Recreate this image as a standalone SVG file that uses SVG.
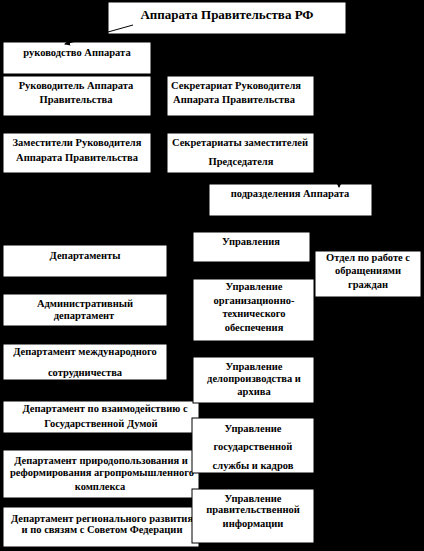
<svg xmlns="http://www.w3.org/2000/svg" width="424" height="551" viewBox="0 0 424 551">
<style>
.box{fill:#fff;stroke:#000;stroke-width:1}
.t{font-family:"Liberation Serif","Times New Roman",serif;font-weight:bold;font-size:10.5px;fill:#000;text-anchor:middle}
.title{font-size:13px}
.conn{stroke:#000;stroke-width:1;fill:none}
</style>
<defs>
<marker id="ah" markerWidth="6" markerHeight="6" refX="5" refY="3" orient="auto" markerUnits="userSpaceOnUse">
<path d="M0,0 L6,3 L0,6 Z" fill="#000"/>
</marker>
</defs>
<rect x="0" y="0" width="424" height="551" fill="#000"/>

<g id="n-title"><rect class="box" x="108" y="2" width="238" height="32"/><text class="t title" x="227" y="19">Аппарата Правительства РФ</text></g>
<g id="n-rukovodstvo"><rect class="box" x="3" y="42" width="148" height="32"/><text class="t" x="77" y="56">руководство Аппарата</text></g>
<g id="n-rukovoditel"><rect class="box" x="3" y="76" width="148" height="40"/><text class="t" x="76" y="89">Руководитель Аппарата</text><text class="t" x="76" y="103">Правительства</text></g>
<g id="n-sekretariat"><rect class="box" x="167" y="76" width="147" height="40"/><text class="t" x="236" y="89">Секретариат Руководителя</text><text class="t" x="234" y="103">Аппарата Правительства</text></g>
<g id="n-zamestiteli"><rect class="box" x="3" y="133" width="148" height="40"/><text class="t" x="77" y="146">Заместители Руководителя</text><text class="t" x="77" y="161">Аппарата Правительства</text></g>
<g id="n-sekretariaty"><rect class="box" x="167" y="133" width="147" height="40"/><text class="t" x="240" y="146">Секретариаты заместителей</text><text class="t" x="241" y="165">Председателя</text></g>
<g id="n-podrazdeleniya"><rect class="box" x="209" y="184" width="163" height="32"/><text class="t" x="290" y="197">подразделения Аппарата</text></g>

<g id="n-departamenty"><rect class="box" x="3" y="245" width="164" height="32"/><text class="t" x="85" y="259">Департаменты</text></g>
<g id="n-admin"><rect class="box" x="3" y="294" width="164" height="32"/><text class="t" x="85" y="307">Административный</text><text class="t" x="84" y="319">департамент</text></g>
<g id="n-mezhd"><rect class="box" x="3" y="344" width="164" height="36"/><text class="t" x="85" y="355">Департамент международного</text><text class="t" x="85" y="376">сотрудничества</text></g>
<g id="n-duma"><rect class="box" x="3" y="401" width="196" height="32"/><text class="t" x="105" y="412">Департамент по взаимодействию с</text><text class="t" x="101" y="427">Государственной Думой</text></g>
<g id="n-priroda"><rect class="box" x="3" y="450" width="196" height="48"/><text class="t" x="101" y="464">Департамент природопользования и</text><text class="t" x="102" y="476">реформирования агропромышленного</text><text class="t" x="100" y="490">комплекса</text></g>
<g id="n-region"><rect class="box" x="3" y="507" width="196" height="40"/><text class="t" x="102" y="522">Департамент регионального развития</text><text class="t" x="102" y="533">и по связям с Советом Федерации</text></g>

<g id="n-upravleniya"><rect class="box" x="193" y="232" width="117" height="30"/><text class="t" x="251" y="245">Управления</text></g>
<g id="n-orgtech"><rect class="box" x="193" y="279" width="121" height="62"/><text class="t" x="254" y="290">Управление</text><text class="t" x="254" y="304">организационно-</text><text class="t" x="254" y="317">технического</text><text class="t" x="254" y="331">обеспечения</text></g>
<g id="n-delo"><rect class="box" x="193" y="357" width="121" height="46"/><text class="t" x="254" y="370">Управление</text><text class="t" x="254" y="382">делопроизводства и</text><text class="t" x="254" y="395">архива</text></g>
<g id="n-kadry"><rect class="box" x="192" y="418" width="122" height="55"/><text class="t" x="253" y="432">Управление</text><text class="t" x="253" y="450">государственной</text><text class="t" x="253" y="469">службы и кадров</text></g>
<g id="n-info"><rect class="box" x="192" y="489" width="122" height="54"/><text class="t" x="253" y="502">Управление</text><text class="t" x="253" y="513">правительственной</text><text class="t" x="253" y="527">информации</text></g>
<g id="n-otdel"><rect class="box" x="315" y="251" width="106" height="46"/><text class="t" x="368" y="261">Отдел по работе с</text><text class="t" x="368" y="274">обращениями</text><text class="t" x="368" y="288">граждан</text></g>

<g id="connectors">
<line class="conn" x1="133" y1="25" x2="65" y2="44" marker-end="url(#ah)"/>
<line class="conn" x1="339" y1="175" x2="339" y2="187" marker-end="url(#ah)"/>
</g>
</svg>
